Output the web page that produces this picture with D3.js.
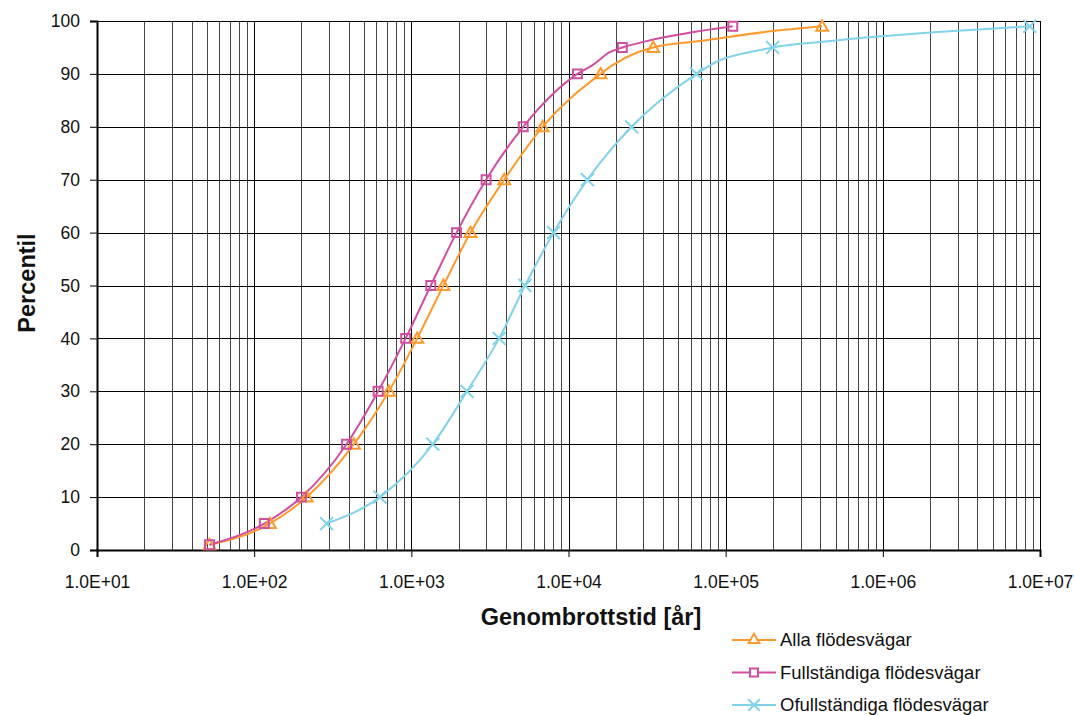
<!DOCTYPE html>
<html>
<head>
<meta charset="utf-8">
<script src="https://cdn.jsdelivr.net/npm/d3@7"></script>
<style>
  body { margin: 0; background: #fff; }
  svg { display: block; font-family: "Liberation Sans", Arial, sans-serif; }
</style>
</head>
<body>
<svg id="chart" width="1074" height="715"></svg>
<script>
// percentiles and breakthrough times [år] (marked points)
const percentiles = [1, 5, 10, 20, 30, 40, 50, 60, 70, 80, 90, 95, 99];
const allaTid = [52, 126, 216, 431, 720, 1090, 1600, 2380, 3900, 6840, 16000, 34600, 411000];
const fullTid = [52, 116, 200, 387, 615, 920, 1330, 1940, 2990, 5150, 11400, 22000, 111000];
const ofullPercentiles = [5, 10, 20, 30, 40, 50, 60, 70, 80, 90, 95, 99];
const ofullTid = [289, 631, 1370, 2260, 3620, 5290, 8040, 13200, 25200, 65300, 199000, 8600000];

// unmarked points the lines also pass through (upper tail)
const allaExtraPct = [91.7, 94, 96.2, 98.1];
const allaExtraTid = [19200, 27100, 68500, 200000];
const fullExtraPct = [91.7, 94.1, 96.2];
const fullExtraTid = [14300, 18300, 31400];
const ofullExtraPct = [92.3, 94.5, 96.1];
const ofullExtraTid = [87500, 165000, 417000];

const xTicks = [1e1, 1e2, 1e3, 1e4, 1e5, 1e6, 1e7];
const xTickLabels = ['1.0E+01', '1.0E+02', '1.0E+03', '1.0E+04', '1.0E+05', '1.0E+06', '1.0E+07'];
const yTicks = [0, 10, 20, 30, 40, 50, 60, 70, 80, 90, 100];

const seriesNames = ['Alla flödesvägar', 'Fullständiga flödesvägar', 'Ofullständiga flödesvägar'];
const seriesColors = ['#ff9a2e', '#d04f9f', '#82d3ea'];
const seriesSymbols = [d3.symbolTriangle, d3.symbolSquare, d3.symbolX];
const symbolSizes = [62, 80, 110];

const zip = (ps, ts) => ps.map((p, i) => ({ p, t: ts[i] }));
const markers = [
  zip(percentiles, allaTid),
  zip(percentiles, fullTid),
  zip(ofullPercentiles, ofullTid)
];
const extras = [
  zip(allaExtraPct, allaExtraTid),
  zip(fullExtraPct, fullExtraTid),
  zip(ofullExtraPct, ofullExtraTid)
];
const lines = markers.map((m, i) => m.concat(extras[i]).sort((a, b) => a.p - b.p));

const svg = d3.select('#chart');
const plotLeft = 97, plotRight = 1040, plotTop = 21, plotBottom = 550;

const x = d3.scaleLog().domain([1e1, 1e7]).range([plotLeft, plotRight]);
const y = d3.scaleLinear().domain([0, 100]).range([plotBottom, plotTop]);

// grid
const minor = [];
for (let e = 1; e < 7; e++) {
  for (let k = 2; k <= 9; k++) minor.push(k * Math.pow(10, e));
}
const grid = svg.append('g').attr('shape-rendering', 'crispEdges');
grid.selectAll('line.minor').data(minor).enter().append('line')
  .attr('x1', d => Math.round(x(d)) + 0.5).attr('x2', d => Math.round(x(d)) + 0.5)
  .attr('y1', plotTop).attr('y2', plotBottom)
  .attr('stroke', '#444').attr('stroke-width', 1);
grid.selectAll('line.major').data(xTicks).enter().append('line')
  .attr('x1', d => Math.round(x(d)) + 0.5).attr('x2', d => Math.round(x(d)) + 0.5)
  .attr('y1', plotTop).attr('y2', plotBottom)
  .attr('stroke', '#000').attr('stroke-width', 1);
grid.selectAll('line.h').data(yTicks).enter().append('line')
  .attr('x1', plotLeft).attr('x2', plotRight)
  .attr('y1', d => Math.round(y(d)) + 0.5).attr('y2', d => Math.round(y(d)) + 0.5)
  .attr('stroke', '#000').attr('stroke-width', 1);

// axes
const yAxis = d3.axisLeft(y).tickValues(yTicks).tickSize(7).tickPadding(10);
svg.append('g').attr('transform', `translate(${plotLeft},0)`).call(yAxis)
  .call(g => g.select('.domain').attr('stroke-width', 2))
  .call(g => g.selectAll('text').attr('font-size', 17.5).attr('fill', '#111')
    .attr('font-family', '"Liberation Sans", Arial, sans-serif'));

const xAxis = d3.axisBottom(x).tickValues(xTicks).tickSize(7).tickPadding(19)
  .tickFormat((d, i) => xTickLabels[i]);
svg.append('g').attr('transform', `translate(0,${plotBottom})`).call(xAxis)
  .call(g => g.select('.domain').attr('stroke-width', 2))
  .call(g => g.selectAll('text').attr('font-size', 17.5).attr('fill', '#111')
    .attr('font-family', '"Liberation Sans", Arial, sans-serif'));

// titles
svg.append('text')
  .attr('x', 591).attr('y', 625)
  .attr('text-anchor', 'middle')
  .attr('font-size', 23.5).attr('font-weight', 'bold').attr('fill', '#111')
  .text('Genombrottstid [år]');
svg.append('text')
  .attr('transform', 'translate(35,283) rotate(-90)')
  .attr('text-anchor', 'middle')
  .attr('font-size', 23.5).attr('font-weight', 'bold').attr('fill', '#111')
  .text('Percentil');

// lines and markers
const line = d3.line()
  .x(d => x(d.t))
  .y(d => y(d.p))
  .curve(d3.curveMonotoneX);

lines.forEach((data, i) => {
  svg.append('path')
    .datum(data)
    .attr('d', line)
    .attr('fill', 'none')
    .attr('stroke', seriesColors[i])
    .attr('stroke-width', 2);
});

markers.forEach((data, i) => {
  const sym = d3.symbol().type(seriesSymbols[i]).size(symbolSizes[i]);
  svg.append('g').selectAll('path').data(data).enter().append('path')
    .attr('d', sym)
    .attr('transform', d => `translate(${x(d.t)},${y(d.p) + (i === 0 ? 1 : 0)})`)
    .attr('fill', 'none')
    .attr('stroke', seriesColors[i])
    .attr('stroke-width', 2);
});

// legend
const legend = svg.append('g');
seriesNames.forEach((name, i) => {
  const ly = 640 + i * 32.5;
  legend.append('line')
    .attr('x1', 732).attr('x2', 776).attr('y1', ly).attr('y2', ly)
    .attr('stroke', seriesColors[i]).attr('stroke-width', 2);
  legend.append('path')
    .attr('d', d3.symbol().type(seriesSymbols[i]).size(symbolSizes[i] * 0.8)())
    .attr('transform', `translate(754,${ly})`)
    .attr('fill', '#fff')
    .attr('stroke', seriesColors[i]).attr('stroke-width', 2);
  legend.append('text')
    .attr('x', 780).attr('y', ly + 6)
    .attr('font-size', 18.5).attr('fill', '#111')
    .text(name);
});
</script>
</body>
</html>
